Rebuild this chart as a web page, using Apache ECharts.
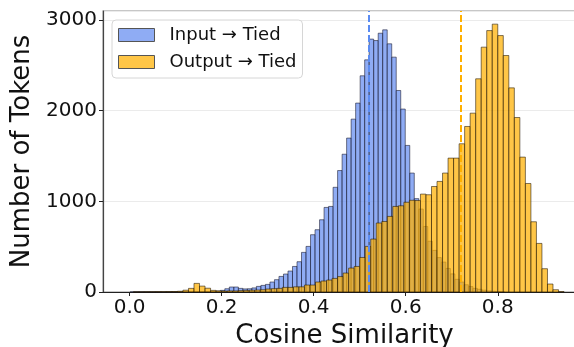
<!DOCTYPE html>
<html>
<head>
<meta charset="utf-8">
<script src="https://cdn.jsdelivr.net/npm/echarts@6/dist/echarts.min.js"></script>
<style>
  html, body { margin: 0; padding: 0; background: #fff; }
  #chart { width: 574px; height: 347px; }
</style>
</head>
<body>
<div id="chart"></div>
<script>
// histogram bins (left edge of first bin + bin width) and counts
var inputStart = 0.0012;
var inputWidth = 0.0098;
var inputCounts = [
    1, 1, 1, 1, 1, 1, 1, 1, 2, 2, 2, 2, 3, 3, 3, 4, 4, 5, 7,
    10, 18, 36, 55, 55, 40, 34, 36, 45, 62,
    73, 84, 110, 136, 172, 198, 231, 282, 334, 437,
    503, 632, 687, 797, 933, 944, 1155, 1340, 1520, 1698,
    1907, 2084, 2385, 2561, 2790, 2774, 2855, 2892, 2738, 2591,
    2223, 2018, 1617, 1312, 1030, 915, 723, 560, 459, 380,
    330, 260, 200, 140, 110, 80, 60, 40, 30, 20,
    12, 8, 5, 3
];

var outputStart = 0.008;
var outputWidth = 0.012;
var outputCounts = [
    1, 1, 2, 2, 3, 3, 4, 5,
    8, 20, 40, 95, 65, 42, 18, 12, 10, 12,
    12, 15, 18, 20, 22, 25, 33, 37, 40, 51,
    51, 57, 57, 77, 77, 110, 121, 132, 150, 170,
    209, 264, 282, 381, 503, 584, 761, 778, 834, 944,
    951, 990, 1012, 1010, 1080, 1073, 1164, 1220, 1312, 1477,
    1477, 1635, 1826, 1973, 2352, 2701, 2884, 2955, 2829, 2609,
    2252, 1925, 1488, 1197, 775, 536, 257, 88, 25, 5
];

var inputMean = 0.524;
var outputMean = 0.717;
var xTicks = [0.0, 0.2, 0.4, 0.6, 0.8];

function toBins(start, width, counts) {
    return counts.map(function (c, i) {
        return [start + i * width, start + (i + 1) * width, c];
    });
}

function renderBar(params, api) {
    var p0 = api.coord([api.value(0), api.value(2)]);
    var p1 = api.coord([api.value(1), 0]);
    return {
        type: 'rect',
        shape: { x: p0[0], y: p0[1], width: p1[0] - p0[0], height: p1[1] - p0[1] },
        style: api.style()
    };
}

var font = 'DejaVu Sans';
var chart = echarts.init(document.getElementById('chart'));

option = {
    animation: false,
    grid: {
        left: 103, top: 11, width: 483, height: 281,
        containLabel: false, outerBoundsMode: 'none',
        show: true, borderColor: '#b5b5b5', borderWidth: 1.5
    },
    legend: {
        orient: 'vertical',
        left: 112, top: 20,
        padding: [6, 6, 7, 6],
        itemWidth: 36, itemHeight: 13, itemGap: 9,
        backgroundColor: 'rgba(255,255,255,0.85)',
        borderColor: '#d6d6d6', borderWidth: 1, borderRadius: 4,
        textStyle: { fontFamily: font, fontSize: 18, color: '#111', padding: [0, 0, 0, 10] },
        data: [
            { name: 'Input → Tied', icon: 'rect',
              itemStyle: { color: 'rgba(100,140,240,0.72)', borderColor: '#555', borderWidth: 1 } },
            { name: 'Output → Tied', icon: 'rect',
              itemStyle: { color: 'rgba(255,176,0,0.72)', borderColor: '#555', borderWidth: 1 } }
        ]
    },
    xAxis: {
        type: 'value', min: -0.0577, max: 0.9917,
        name: 'Cosine Similarity', nameLocation: 'middle', nameGap: 28,
        nameTextStyle: { fontFamily: font, fontSize: 26, color: '#111' },
        axisLine: { onZero: false, lineStyle: { color: '#222', width: 1.2 } },
        axisTick: { customValues: xTicks, length: 4, lineStyle: { color: '#222' } },
        axisLabel: { customValues: xTicks, fontFamily: font, fontSize: 20, color: '#111', margin: 6,
                     formatter: function (v) { return v.toFixed(1); } },
        splitLine: { show: false }
    },
    yAxis: {
        type: 'value', min: 0, max: 3100, interval: 1000,
        name: 'Number of Tokens', nameLocation: 'middle', nameGap: 58,
        nameTextStyle: { fontFamily: font, fontSize: 26, color: '#111' },
        axisLine: { show: true, onZero: false, lineStyle: { color: '#444', width: 1.2 } },
        axisTick: { show: true, length: 4, lineStyle: { color: '#222' } },
        axisLabel: { fontFamily: font, fontSize: 20, color: '#111', margin: 6,
                     showMaxLabel: false,
                     formatter: function (v) { return String(v); } },
        splitLine: { lineStyle: { color: '#ebebeb', width: 1 } }
    },
    series: [
        {
            name: 'Input → Tied',
            type: 'custom',
            renderItem: renderBar,
            encode: { x: [0, 1], y: 2 },
            itemStyle: { color: 'rgba(100,140,240,0.72)', borderColor: 'rgba(20,20,40,0.7)', borderWidth: 0.8 },
            data: toBins(inputStart, inputWidth, inputCounts),
            z: 2,
            markLine: {
                silent: true, symbol: 'none', label: { show: false },
                lineStyle: { color: '#5b8cf2', type: [7, 3], width: 2 },
                data: [{ xAxis: inputMean }]
            }
        },
        {
            name: 'Output → Tied',
            type: 'custom',
            renderItem: renderBar,
            encode: { x: [0, 1], y: 2 },
            itemStyle: { color: 'rgba(255,176,0,0.72)', borderColor: 'rgba(30,20,0,0.7)', borderWidth: 0.8 },
            data: toBins(outputStart, outputWidth, outputCounts),
            z: 3,
            markLine: {
                silent: true, symbol: 'none', label: { show: false },
                lineStyle: { color: '#ffb000', type: [7, 3], width: 2 },
                data: [{ xAxis: outputMean }]
            }
        }
    ]
};
chart.setOption(option);
</script>
</body>
</html>
